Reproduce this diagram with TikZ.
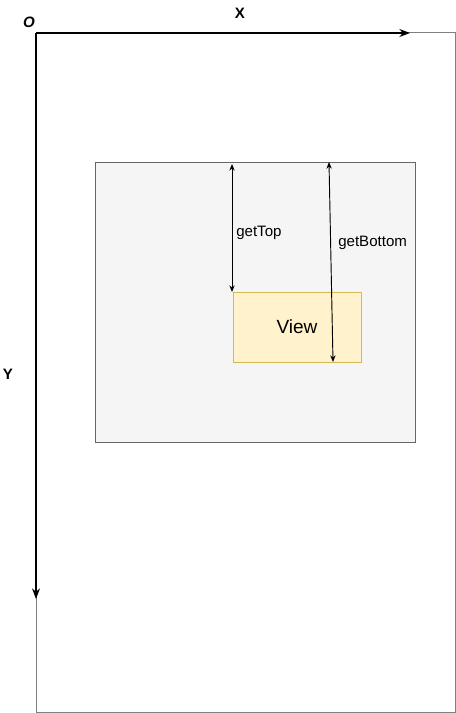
\documentclass[tikz,border=0pt]{standalone}
\usepackage{fontspec}
\setmainfont{Liberation Sans}
\usetikzlibrary{arrows.meta,positioning}
\definecolor{parentfill}{HTML}{F5F5F5}
\definecolor{parentline}{HTML}{666666}
\definecolor{viewfill}{HTML}{FFF2CC}
\definecolor{viewline}{HTML}{D6B656}
\tikzset{
	axis/.style={line width=0.95pt, -{Stealth[length=8pt,width=6pt]}},
	dim/.style={line width=0.7pt, {Stealth[length=5pt,width=4pt]}-{Stealth[length=5pt,width=4pt]}},
	lbl/.style={font=\fontsize{11.3}{13}\selectfont, anchor=west, inner sep=0pt},
	axlbl/.style={font=\bfseries\fontsize{11.3}{13}\selectfont},
}
\begin{document}
\begin{tikzpicture}[x=0.75pt, y=-0.75pt]
		\useasboundingbox (0, 0) rectangle (456, 713);

		% screen
		\draw[color=gray, line width=0.75pt] (36, 33) rectangle (455, 712);

		% parent and view
		\draw[color=parentline, fill=parentfill, line width=0.75pt] (95, 162) rectangle (415, 442);
		\node[draw=viewline, fill=viewfill, line width=0.75pt, minimum width=96pt, minimum height=52.5pt,
			font=\fontsize{14.3}{17}\selectfont] (view) at (297, 327) {View};

		% axes
		\coordinate (o) at (36, 33);
		\coordinate (xend) at (410, 33);
		\coordinate (yend) at (36, 599);
		\draw[axis] (o) -- (xend);
		\draw[axis] (o) -- (yend);
		\node[axlbl, font=\bfseries\itshape\fontsize{11.3}{13}\selectfont] (olabel) at (29, 22) {O};
		\node[axlbl] (xlabel) at (240, 13) {X};
		\node[axlbl] (ylabel) at (8, 374) {Y};

		% distances
		\coordinate (ttop) at (232, 164);
		\coordinate (tbot) at (232, 292);
		\coordinate (btop) at (329, 162);
		\coordinate (bbot) at (333, 362);
		\draw[dim] (ttop) -- (tbot);
		\draw[dim] (btop) -- (bbot);
		\node[lbl] (toplabel) at (236, 233) {getTop};
		\node[lbl] (bottomlabel) at (338, 243) {getBottom};
	\end{tikzpicture}
\end{document}
